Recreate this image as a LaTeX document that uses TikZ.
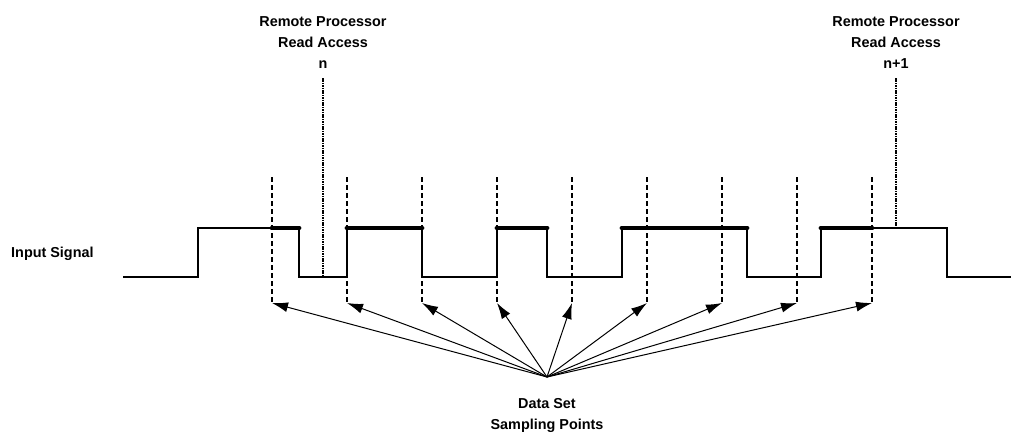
\documentclass[tikz,border=0pt]{standalone}
\usepackage{fontspec}
\setmainfont{Liberation Sans}
\usepackage{tikz}
\usetikzlibrary{positioning, arrows.meta, calc}

\begin{document}
\begin{tikzpicture}[x=1pt, y=-1pt,
        lbl/.style={font=\fontsize{14.4}{21}\selectfont\bfseries, align=center, inner sep=0pt},
        signal/.style={line width=2pt},
        valid/.style={line width=4.8pt, line cap=round},
        sampleline/.style={line width=1.8pt, dash pattern=on 5pt off 3pt},
        readline/.style={line width=1.8pt, dash pattern=on 1.6pt off 0.8pt},
        pointer/.style={-{Latex[length=16pt, width=10pt]}, line width=1pt}]
    \useasboundingbox (0,0) rectangle (1013,437);

    % Labels
    \node (accN) at (323,16.5) [lbl, anchor=north] {Remote Processor\\Read Access\\n};
    \node (accN1) at (896,16.5) [lbl, anchor=north] {Remote Processor\\Read Access\\n+1};
    \node (input) at (11,257) [lbl, anchor=base west] {Input Signal};
    \node (dataset) at (547,398.5) [lbl, anchor=north] {Data Set\\Sampling Points};

    % Input signal
    \draw[signal] (123,277) -| (198,228) -| (299,277) -| (347,228) -| (422,277) -| (497,228)
        -| (547,277) -| (622,228) -| (747,277) -| (821,228) -| (947,277) -- (1011,277);

    % Thick parts of the signal
    \draw[valid] (272,228) -- (299,228);
    \draw[valid] (347,228) -- (422,228);
    \draw[valid] (497,228) -- (547,228);
    \draw[valid] (622,228) -- (747,228);
    \draw[valid] (821,228) -- (872,228);

    % Read access markers
    \coordinate (hitN) at (323,277);
    \coordinate (hitN1) at (896,228);
    \draw[readline] (accN.south |- 0,78) -- (hitN);
    \draw[readline] (accN1.south |- 0,78) -- (hitN1);

    % Sampling points
    \coordinate (hub) at (547,377);
    \foreach \x [count=\i] in {272,347,422,497,572,647,722,797,872} {
        \coordinate (s\i) at (\x,303);
        \draw[sampleline] (\x,177) -- (s\i);
        \draw[pointer] (hub) -- (s\i);
    }

\end{tikzpicture}
\end{document}
